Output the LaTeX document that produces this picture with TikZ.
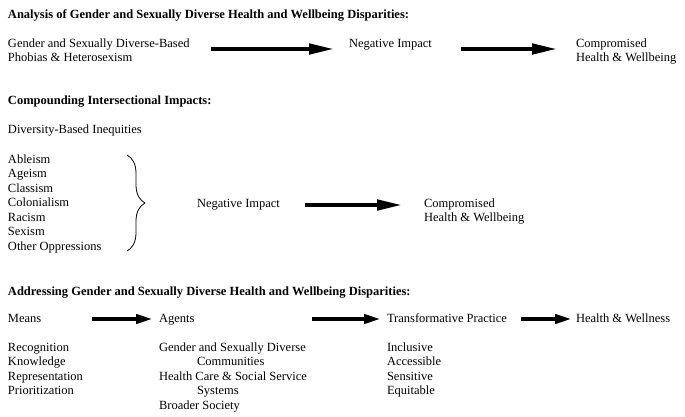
\documentclass[tikz,border=0pt]{standalone}
\usepackage{fontspec}
\setmainfont{Liberation Serif}
\usetikzlibrary{arrows.meta,decorations.pathreplacing}
\begin{document}
\begin{tikzpicture}[x=1pt,y=-1pt,
  txt/.style={anchor=base west,inner sep=0pt,outer sep=0pt,align=left,font=\fontsize{12.5}{14.5}\selectfont},
  ttl/.style={txt,font=\fontsize{12.5}{14.5}\selectfont\bfseries},
  bigarrow/.style={line width=4.5pt,-{Triangle[length=26pt,width=10pt]}},
  smallarrow/.style={line width=4pt,-{Triangle[length=17pt,width=9pt]}},
  bracestyle/.style={line width=0.8pt,decorate,decoration={brace,amplitude=18pt}}]
\useasboundingbox (0,0) rectangle (685,417);
% Section 1 (multi-line nodes are anchored at the baseline of their last line)
\node[ttl] (t1) at (8,19) {Analysis of Gender and Sexually Diverse Health and Wellbeing Disparities:};
\node[txt] (gsd) at (8,62) {Gender and Sexually Diverse-Based\\Phobias \& Heterosexism};
\node[txt] (ni1) at (349,47.5) {Negative Impact};
\node[txt] (cw1) at (576,62) {Compromised\\Health \& Wellbeing};
\draw[bigarrow] ([xshift=21.5pt,yshift=-1.5pt]gsd.east |- ni1.base) -- ([xshift=-14pt,yshift=-1.5pt]ni1.base west);
\draw[bigarrow] ([xshift=29pt,yshift=-1.5pt]ni1.base east) -- ([xshift=-18pt,yshift=-1.5pt]cw1.west |- ni1.base);
% Section 2
\node[ttl] (t2) at (8,105) {Compounding Intersectional Impacts:};
\node[txt] (dbi) at (8,133) {Diversity-Based Inequities};
\node[txt] (ops) at (8,250) {Ableism\\Ageism\\Classism\\Colonialism\\Racism\\Sexism\\Other Oppressions};
\coordinate (bt) at (127,155);
\coordinate (bb) at (127,251);
\draw[bracestyle] (bt) -- (bb);
\node[txt] (ni2) at (197,207) {Negative Impact};
\node[txt] (cw2) at (424,221.5) {Compromised\\Health \& Wellbeing};
\draw[bigarrow] ([xshift=25pt,yshift=2pt]ni2.base east) -- ([xshift=-21pt,yshift=2pt]cw2.west |- ni2.base);
% Section 3
\node[ttl] (t3) at (8,295) {Addressing Gender and Sexually Diverse Health and Wellbeing Disparities:};
\node[txt] (means) at (8,322) {Means};
\node[txt] (agents) at (159,322) {Agents};
\node[txt] (tp) at (387,322) {Transformative Practice};
\node[txt] (hw) at (576,322) {Health \& Wellness};
\draw[smallarrow] ([xshift=50.7pt,yshift=3pt]means.base east) -- ([xshift=-6pt,yshift=3pt]agents.base west);
\draw[smallarrow] ([xshift=117.6pt,yshift=3pt]agents.base east) -- ([xshift=-6pt,yshift=3pt]tp.base west);
\draw[smallarrow] ([xshift=14.5pt,yshift=3pt]tp.base east) -- ([xshift=-4pt,yshift=3pt]hw.base west);
\node[txt] (ml) at (8,394.5) {Recognition\\Knowledge\\Representation\\Prioritization};
\node[txt] (al) at (159,409) {Gender and Sexually Diverse\\\hspace*{38pt}Communities\\Health Care \& Social Service\\\hspace*{38pt}Systems\\Broader Society};
\node[txt] (tl) at (387,394.5) {Inclusive\\Accessible\\Sensitive\\Equitable};
\end{tikzpicture}
\end{document}
